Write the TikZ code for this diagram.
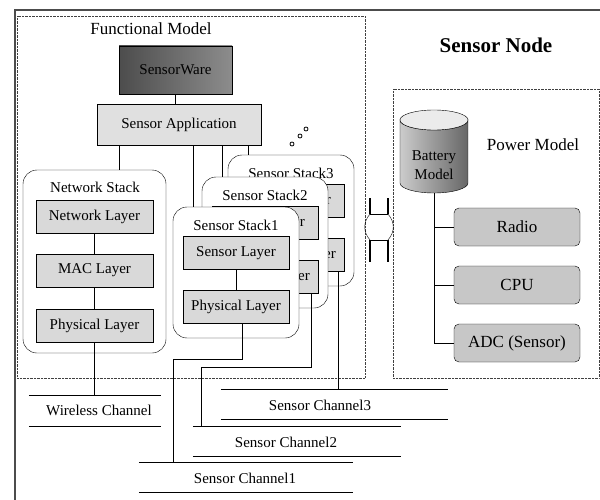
\documentclass[tikz,border=0pt]{standalone}
\usepackage{fontspec}
\setmainfont{Liberation Serif}
\begin{document}
\begin{tikzpicture}[x=1pt,y=-1pt,
  lbl/.style={font=\fontsize{15}{19}\selectfont, inner sep=0pt},
  bigtxt/.style={font=\fontsize{17}{20}\selectfont, inner sep=0pt},
  layerbox/.style={draw, fill=black!15, minimum width=106pt, minimum height=33pt, lbl},
  stackbox/.style={draw, fill=white, rounded corners=14pt, minimum width=126pt, minimum height=131pt},
  chan/.style={minimum width=#1, minimum height=30pt, inner sep=0pt},
  partbox/.style={draw, fill=black!22, rounded corners=5pt, minimum width=126pt, minimum height=38pt, bigtxt},
  modelbox/.style={draw=black!75, densely dotted}]
\useasboundingbox (0,0) rectangle (600,500);
% frames
\draw[black!70, line width=2pt] (600,10) -- (15,10) -- (15,500);
\node[modelbox, minimum width=348pt, minimum height=362pt] (func) at (191,197) {};
\node[modelbox, minimum width=206pt, minimum height=289pt] (power) at (496,233.5) {};
\node[bigtxt] (funclbl) at (151,29) {Functional Model};
\node[font=\fontsize{21}{24}\selectfont\bfseries, inner sep=0pt] (nodelbl) at (496,45) {Sensor Node};
\node[bigtxt] (powerlbl) at (533,145) {Power Model};
% application
\node[draw, lbl, left color=black!70, middle color=black!25, right color=black!45,
  minimum width=113pt, minimum height=48pt] (ware) at (175.5,70) {SensorWare};
\node[draw, lbl, fill=black!12, minimum width=164pt, minimum height=41pt] (app) at (179,124.5) {Sensor Application};
\draw (ware.south) -- (ware.south |- app.north);
% network stack
\node[stackbox, minimum width=143pt, minimum height=183pt] (net) at (94.5,261.5) {};
\node[lbl] (netlbl) at (95,187) {Network Stack};
\node[layerbox, minimum width=117pt] (netlay) at (94.5,216.5) {Network Layer};
\node[layerbox, minimum width=117pt] (maclay) at (94.5,270.5) {MAC Layer};
\node[layerbox, minimum width=117pt] (phylay) at (94.5,325.5) {Physical Layer};
\draw (netlay) -- (maclay) (maclay) -- (phylay);
\draw ([xshift=24.5pt]net.north) -- ([xshift=24.5pt]net.north |- app.south);
% sensor stacks, back to front
\foreach \i/\x/\y in {3/228/155, 2/202/177, 1/173/207}{
  \node[stackbox] (stack\i) at (\x+63,\y+65.5) {};
  \node[lbl] (slbl\i) at (\x+63,\y+18) {Sensor Stack\i};
  \node[layerbox] (slay\i) at (\x+63,\y+46) {Sensor Layer};
  \node[layerbox] (sphy\i) at (\x+63,\y+100) {Physical Layer};
  \draw (slay\i) -- (sphy\i);
  \draw ([xshift=20pt]stack\i.north west) -- ([xshift=20pt]stack\i.north west |- app.south);
}
\foreach \p in {(292,144),(300,136),(306,129)} \draw[thick] \p circle (2pt);
% channels
\node[chan=132pt] (wchan) at (95,410.5) {};
\node[chan=227pt] (chan3) at (334.5,404) {};
\node[chan=208pt] (chan2) at (297,441) {};
\node[chan=214pt] (chan1) at (246,477) {};
\foreach \c in {wchan,chan3,chan2,chan1}
  \draw (\c.north west) -- (\c.north east) (\c.south west) -- (\c.south east);
\node[lbl] (wlbl) at (99,410) {Wireless Channel};
\node[lbl] (c3lbl) at (320,405) {Sensor Channel3};
\node[lbl] (c2lbl) at (286,442) {Sensor Channel2};
\node[lbl] (c1lbl) at (245,478) {Sensor Channel1};
\coordinate (bend1) at (173,359);
\coordinate (bend2) at (201,367);
\draw (phylay) -- (phylay |- wchan.north);
\draw ([xshift=6pt]sphy1.south) |- (bend1) -- (bend1 |- chan1.north);
\draw ([xshift=-7pt]sphy2.south east) |- (bend2) -- (bend2 |- chan2.north);
\draw ([xshift=-6pt]sphy3.south east) -- ([xshift=-6pt]sphy3.south east |- chan3.north);
% link between the models
\draw[line width=1.4pt] (370,198) -- (370,214) (388,198) -- (388,214)
  (370,240) -- (370,262) (388,240) -- (388,262);
\draw (370,214) -- (388,214) (370,240) -- (388,240);
\draw (370,214) .. controls (363,222) and (363,232) .. (370,240);
\draw (388,214) .. controls (395,222) and (395,232) .. (388,240);
% power model
\shade[draw, left color=black!20, right color=black!60] (400,120) -- (400,183)
  arc[start angle=180, end angle=0, x radius=34, y radius=10] -- (468,120)
  arc[start angle=0, end angle=180, x radius=34, y radius=10] -- cycle;
\draw[fill=black!8] (434,120) ellipse [x radius=34, y radius=10];
\node[lbl, align=center, minimum height=56pt] (battery) at (434,165) {Battery\\Model};
\node[partbox] (radio) at (517,227) {Radio};
\node[partbox] (cpu) at (517,285) {CPU};
\node[partbox] (adc) at (517,343) {ADC (Sensor)};
\foreach \n in {radio,cpu,adc} \draw (battery.south) |- (\n.west);
\end{tikzpicture}
\end{document}
